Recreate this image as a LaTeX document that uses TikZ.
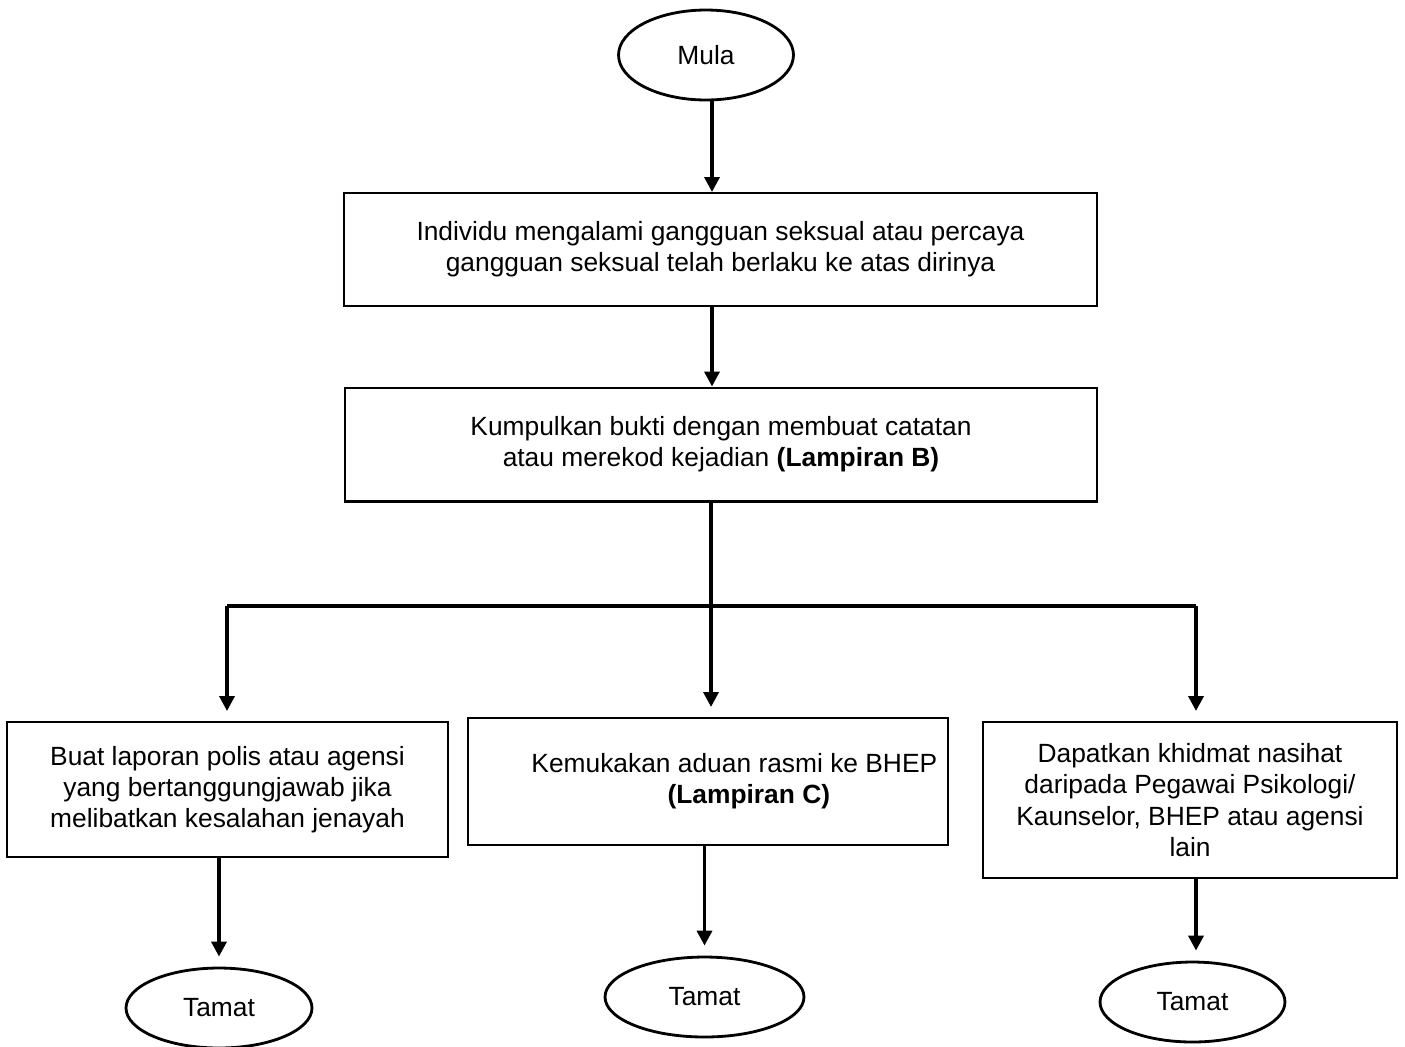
\documentclass[tikz,border=0pt]{standalone}
\usepackage{fontspec}
\setmainfont{Liberation Sans}
\usetikzlibrary{shapes.geometric,arrows.meta}
\begin{document}
\begin{tikzpicture}[x=0.02cm,y=-0.02cm]

\def\gap{5.7pt}
\tikzstyle{block} = [
	draw, line width=1.15pt, rectangle, align=center, inner sep=0pt,
	font=\fontsize{15pt}{17.8pt}\selectfont ];
\tikzstyle{term} = [
	draw, line width=1.6pt, ellipse, inner sep=0pt,
	minimum height=1.6cm, font=\fontsize{15pt}{17.8pt}\selectfont ];
\tikzstyle{arr} = [line width=2pt, -{Triangle[length=8.5pt,width=8.5pt]}];
\tikzstyle{plain} = [line width=2pt];
\useasboundingbox (0,0) rectangle (1405,1046);

\node[term,minimum width=3.5cm,minimum height=1.8cm] (mula) at (706,55) {Mula};
\node[block,minimum width=15.06cm,minimum height=2.26cm] (indiv) at (720.5,249.5)
	{Individu mengalami gangguan seksual atau percaya\\gangguan seksual telah berlaku ke atas dirinya};
\node[block,minimum width=15.04cm,minimum height=2.28cm] (bukti) at (721,444.5)
	{Kumpulkan bukti dengan membuat catatan\\atau merekod kejadian \textbf{(Lampiran B)}};

\node[block,minimum width=8.82cm,minimum height=2.7cm] (polis) at (227.5,789.5)
	{Buat laporan polis atau agensi\\yang bertanggungjawab jika\\melibatkan kesalahan jenayah};
\node[block,minimum width=9.6cm,minimum height=2.54cm] (aduan) at (708,781.5)
	{\hspace*{2em}Kemukakan aduan rasmi ke BHEP\\\hspace*{3.1em}\textbf{(Lampiran C)}};
\node[block,minimum width=8.28cm,minimum height=3.12cm] (nasihat) at (1190,800)
	{Dapatkan khidmat nasihat\\daripada Pegawai Psikologi/\\Kaunselor, BHEP atau agensi\hspace*{0.7em}\\lain};

\node[term,minimum width=3.72cm] (t1) at (219,1008) {Tamat};
\node[term,minimum width=3.98cm] (t2) at (704.5,997) {Tamat};
\node[term,minimum width=3.7cm] (t3) at (1192.5,1002) {Tamat};

\coordinate (trunk) at (712,0);
\coordinate (sl) at (227,606);
\coordinate (sm) at (711,606);
\coordinate (sr) at (1196,606);

\draw[arr] (mula.south -| trunk) -- (indiv.north -| trunk);
\draw[arr] (indiv.south -| trunk) -- (bukti.north -| trunk);
\draw[plain] (sl) -- (sr);
\draw[arr,shorten >=\gap] (bukti.south -| sm) -- (aduan.north -| sm);
\draw[arr,shorten >=\gap] (sl) -- (polis.north -| sl);
\draw[arr,shorten >=\gap] (sr) -- (nasihat.north -| sr);

\draw[arr,shorten >=\gap] (polis.south -| t1) -- (t1.north);
\draw[arr,shorten >=\gap] (aduan.south -| t2) -- (t2.north);
\draw[arr,shorten >=\gap] (nasihat.south -| sr) -- (t3.north -| sr);

\end{tikzpicture}
\end{document}
